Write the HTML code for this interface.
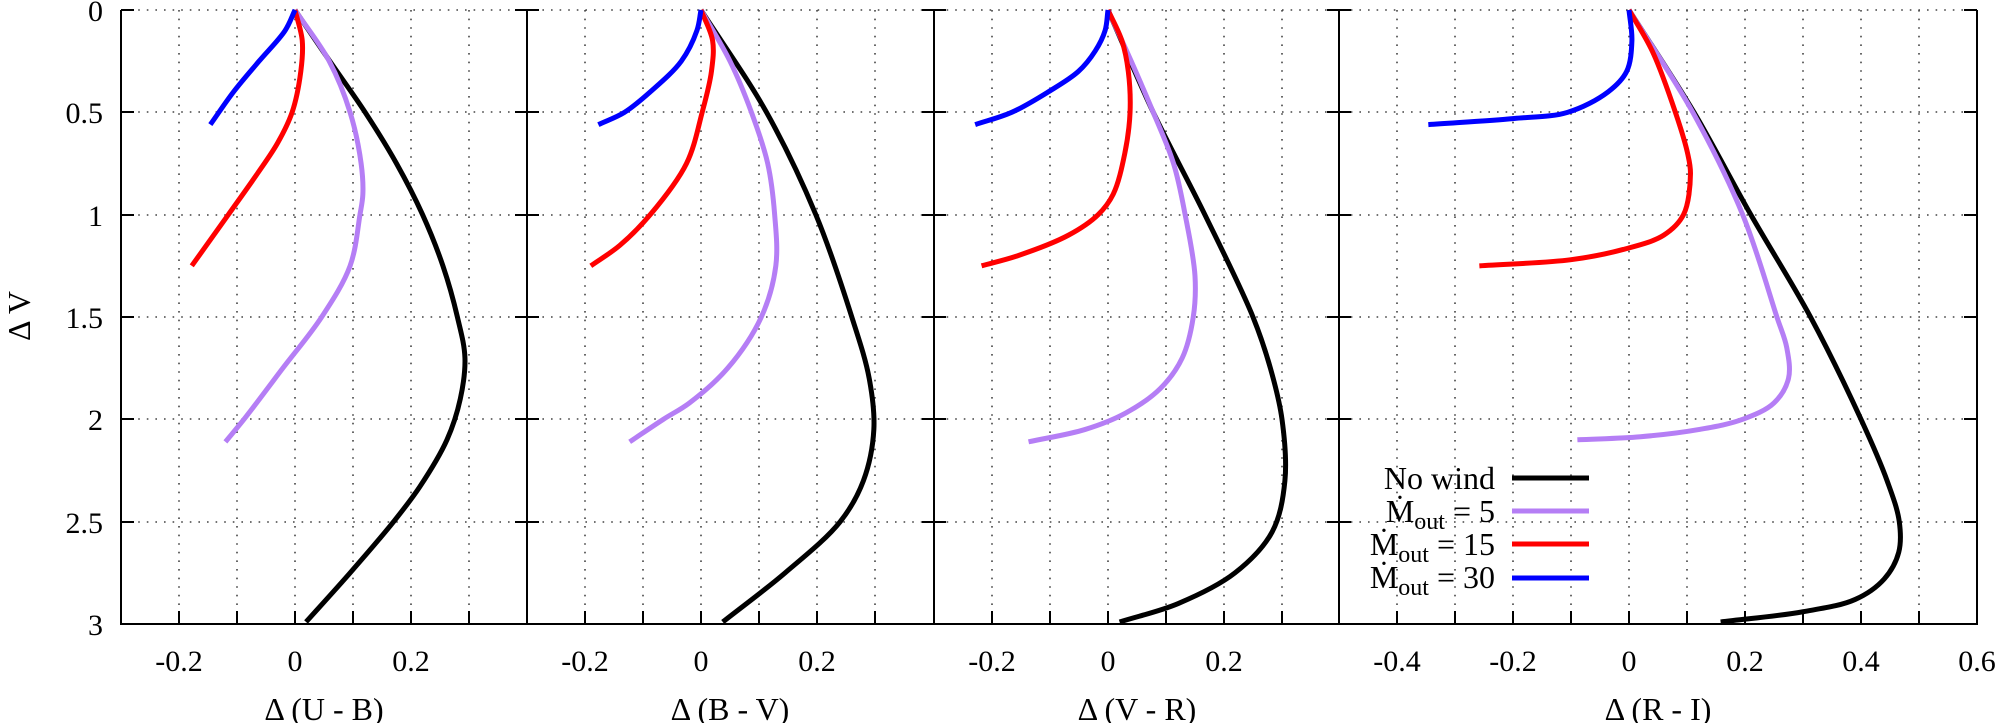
<!DOCTYPE html>
<html><head><meta charset="utf-8"><style>
html,body{margin:0;padding:0;background:#fff;}
text{font-family:"Liberation Serif","Times New Roman",Times,"DejaVu Serif",serif;}
</style></head><body>
<svg id="s" width="2000" height="723" viewBox="0 0 2000 723" xmlns="http://www.w3.org/2000/svg">
<g stroke="#444" stroke-width="1.6" stroke-dasharray="1.6,7" fill="none">
<path d="M121 10H1977M121 112H1977M121 215H1977M121 317H1977M121 419H1977M121 522H1977"/>
<path d="M179 10V624M237 10V624M295 10V624M353 10V624M411 10V624M469 10V624
M585 10V624M643 10V624M701 10V624M759 10V624M817 10V624M875 10V624
M992 10V624M1050 10V624M1108 10V624M1166 10V624M1224 10V624M1282 10V624
M1397 10V624M1455 10V624M1513 10V624M1571 10V624M1629 10V624M1687 10V624M1745 10V624M1803 10V624M1861 10V624M1919 10V624"/>
</g>
<g stroke="#000" stroke-width="2" fill="none">
<path d="M121 10V624H1977V10M527 10V624M934 10V624M1339 10V624"/>
<path d="M179 624v-13M237 624v-13M295 624v-13M353 624v-13M411 624v-13M469 624v-13
M585 624v-13M643 624v-13M701 624v-13M759 624v-13M817 624v-13M875 624v-13
M992 624v-13M1050 624v-13M1108 624v-13M1166 624v-13M1224 624v-13M1282 624v-13
M1397 624v-13M1455 624v-13M1513 624v-13M1571 624v-13M1629 624v-13M1687 624v-13M1745 624v-13M1803 624v-13M1861 624v-13M1919 624v-13"/>
<path d="M121 10h13M121 112h13M121 215h13M121 317h13M121 419h13M121 522h13
M515 10h24M515 112h24M515 215h24M515 317h24M515 419h24M515 522h24
M922 10h24M922 112h24M922 215h24M922 317h24M922 419h24M922 522h24
M1327 10h24M1327 112h24M1327 215h24M1327 317h24M1327 419h24M1327 522h24
M1964 10h13M1964 112h13M1964 215h13M1964 317h13M1964 419h13M1964 522h13"/>
</g>
<g font-size="30" text-anchor="end" fill="#000">
<text x="103" y="21">0</text><text x="103" y="123">0.5</text><text x="103" y="226">1</text>
<text x="103" y="328">1.5</text><text x="103" y="430">2</text><text x="103" y="533">2.5</text><text x="103" y="635">3</text>
</g>
<g font-size="30" text-anchor="middle" fill="#000">
<text x="179" y="671">-0.2</text><text x="295" y="671">0</text><text x="411" y="671">0.2</text>
<text x="585" y="671">-0.2</text><text x="701" y="671">0</text><text x="817" y="671">0.2</text>
<text x="992" y="671">-0.2</text><text x="1108" y="671">0</text><text x="1224" y="671">0.2</text>
<text x="1397" y="671">-0.4</text><text x="1513" y="671">-0.2</text><text x="1629" y="671">0</text><text x="1745" y="671">0.2</text><text x="1861" y="671">0.4</text><text x="1977" y="671">0.6</text>
</g>
<g font-size="32" text-anchor="middle" fill="#000">
<text x="324" y="720">Δ (U - B)</text><text x="730" y="720">Δ (B - V)</text>
<text x="1137" y="720">Δ (V - R)</text><text x="1658" y="720">Δ (R - I)</text>
<text transform="translate(30,316) rotate(-90)">Δ V</text>
</g>
<g fill="none" stroke-width="5" stroke-linejoin="round" stroke-linecap="butt">
<g transform="translate(295,10) scale(580,204.67)">
<path class="c" vector-effect="non-scaling-stroke" stroke="#000" d="M0 0 L0.06 0.25 L0.121 0.5 L0.175 0.75 L0.22 1 L0.255 1.25 L0.28 1.5 L0.293 1.7 L0.285 1.9 L0.262 2.1 L0.215 2.33 L0.17 2.5 L0.095 2.75 L0.019 2.99"/>
<path class="c" vector-effect="non-scaling-stroke" stroke="#b57ef5" d="M0 0 L0.059 0.25 L0.095 0.5 L0.114 0.75 L0.117 0.9 L0.112 1 L0.095 1.25 L0.046 1.5 L-0.021 1.75 L-0.088 2 L-0.12 2.11"/>
<path class="c" vector-effect="non-scaling-stroke" stroke="#f00" d="M0 0 L0.0125 0.15 L0.01 0.3 L-0.005 0.5 L-0.03 0.65 L-0.065 0.8 L-0.115 1.0 L-0.178 1.25"/>
<path class="c" vector-effect="non-scaling-stroke" stroke="#00f" d="M0 0 L-0.017 0.1 L-0.062 0.25 L-0.106 0.4 L-0.146 0.56"/>
</g>
<g transform="translate(701,10) scale(580,204.67)">
<path class="c" vector-effect="non-scaling-stroke" stroke="#000" d="M0 0 L0.113 0.5 L0.198 1 L0.26 1.5 L0.29 1.8 L0.298 2.05 L0.28 2.3 L0.24 2.5 L0.145 2.75 L0.0375 2.99"/>
<path class="c" vector-effect="non-scaling-stroke" stroke="#b57ef5" d="M0 0 L0.05 0.25 L0.087 0.5 L0.115 0.75 L0.127 1 L0.129 1.25 L0.104 1.5 L0.046 1.75 L-0.02 1.92 L-0.065 2 L-0.123 2.11"/>
<path class="c" vector-effect="non-scaling-stroke" stroke="#f00" d="M0 0 L0.02 0.15 L0.018 0.3 L0.002 0.5 L-0.025 0.75 L-0.0875 1 L-0.14 1.15 L-0.19 1.25"/>
<path class="c" vector-effect="non-scaling-stroke" stroke="#00f" d="M0 0 L-0.007 0.1 L-0.034 0.25 L-0.0875 0.4 L-0.132 0.5 L-0.177 0.56"/>
</g>
<g transform="translate(1108,10) scale(580,204.67)">
<path class="c" vector-effect="non-scaling-stroke" stroke="#000" d="M0 0 L0.078 0.5 L0.167 1 L0.25 1.5 L0.28 1.75 L0.3 2 L0.305 2.3 L0.283 2.55 L0.219 2.75 L0.121 2.9 L0.02 2.99"/>
<path class="c" vector-effect="non-scaling-stroke" stroke="#b57ef5" d="M0 0 L0.04 0.25 L0.078 0.5 L0.113 0.75 L0.133 1 L0.15 1.3 L0.147 1.5 L0.128 1.7 L0.09 1.85 L0.03 1.97 L-0.04 2.05 L-0.137 2.11"/>
<path class="c" vector-effect="non-scaling-stroke" stroke="#f00" d="M0 0 L0.024 0.15 L0.035 0.3 L0.038 0.5 L0.029 0.7 L0.009 0.9 L-0.017 1 L-0.068 1.1 L-0.155 1.2 L-0.218 1.25"/>
<path class="c" vector-effect="non-scaling-stroke" stroke="#00f" d="M0 0 L-0.005 0.1 L-0.022 0.2 L-0.051 0.3 L-0.103 0.4 L-0.166 0.5 L-0.229 0.56"/>
</g>
<g transform="translate(1629,10) scale(580,204.67)">
<path class="c" vector-effect="non-scaling-stroke" stroke="#000" d="M0 0 L0.112 0.5 L0.21 1 L0.313 1.5 L0.4 2 L0.445 2.3 L0.466 2.5 L0.465 2.65 L0.44 2.78 L0.39 2.88 L0.3 2.94 L0.158 2.99"/>
<path class="c" vector-effect="non-scaling-stroke" stroke="#b57ef5" d="M0 0 L0.11 0.5 L0.196 1 L0.255 1.5 L0.272 1.65 L0.275 1.8 L0.25 1.92 L0.196 2 L0.12 2.05 L0.02 2.085 L-0.089 2.1"/>
<path class="c" vector-effect="non-scaling-stroke" stroke="#f00" d="M0 0 L0.04 0.2 L0.08 0.5 L0.101 0.7 L0.106 0.8 L0.094 1 L0.06 1.1 L-0.01 1.17 L-0.1 1.22 L-0.258 1.25"/>
<path class="c" vector-effect="non-scaling-stroke" stroke="#00f" d="M0 0 L0.005 0.15 L-0.004 0.3 L-0.036 0.4 L-0.106 0.5 L-0.198 0.53 L-0.346 0.56"/>
</g>
</g>
<g font-size="32" text-anchor="end" fill="#000">
<text x="1495" y="489">No wind</text>
<text x="1495" y="522">Ṁ<tspan font-size="24" dy="7">out</tspan><tspan dy="-7"> = 5</tspan></text>
<text x="1495" y="555">Ṁ<tspan font-size="24" dy="7">out</tspan><tspan dy="-7"> = 15</tspan></text>
<text x="1495" y="588">Ṁ<tspan font-size="24" dy="7">out</tspan><tspan dy="-7"> = 30</tspan></text>
</g>
<g stroke-width="5">
<path d="M1512 478H1589" stroke="#000"/>
<path d="M1512 511H1589" stroke="#b57ef5"/>
<path d="M1512 544H1589" stroke="#f00"/>
<path d="M1512 578H1589" stroke="#00f"/>
</g>
</svg>
<script>
(function(){
var ps=document.querySelectorAll('path.c');
for(var i=0;i<ps.length;i++){
 var d=ps[i].getAttribute('d');
 var n=d.match(/-?[0-9.]+/g).map(Number);
 var p=[];for(var k=0;k+1<n.length;k+=2)p.push([n[k]*580,n[k+1]*204.67]);
 var f=function(q){return q[0]/580+' '+q[1]/204.67;};
 var s='M'+f(p[0]);
 for(var j=0;j<p.length-1;j++){
  var p0=p[j>0?j-1:j],p1=p[j],p2=p[j+1],p3=p[j+2<p.length?j+2:j+1];
  var d1=Math.sqrt(Math.hypot(p1[0]-p0[0],p1[1]-p0[1]))||1e-6;
  var d2=Math.sqrt(Math.hypot(p2[0]-p1[0],p2[1]-p1[1]))||1e-6;
  var d3=Math.sqrt(Math.hypot(p3[0]-p2[0],p3[1]-p2[1]))||1e-6;
  var c1=[],c2=[];
  for(var a=0;a<2;a++){
   var m1=(p1[a]-p0[a])/d1-(p2[a]-p0[a])/(d1+d2)+(p2[a]-p1[a])/d2;
   var m2=(p2[a]-p1[a])/d2-(p3[a]-p1[a])/(d2+d3)+(p3[a]-p2[a])/d3;
   m1*=d2;m2*=d2;
   if(j==0)m1=p2[a]-p1[a];
   if(j==p.length-2)m2=p2[a]-p1[a];
   c1[a]=p1[a]+m1/3;c2[a]=p2[a]-m2/3;
  }
  s+=' C'+f(c1)+' '+f(c2)+' '+f(p2);
 }
 ps[i].setAttribute('d',s);
}
})();
</script>
</body></html>
